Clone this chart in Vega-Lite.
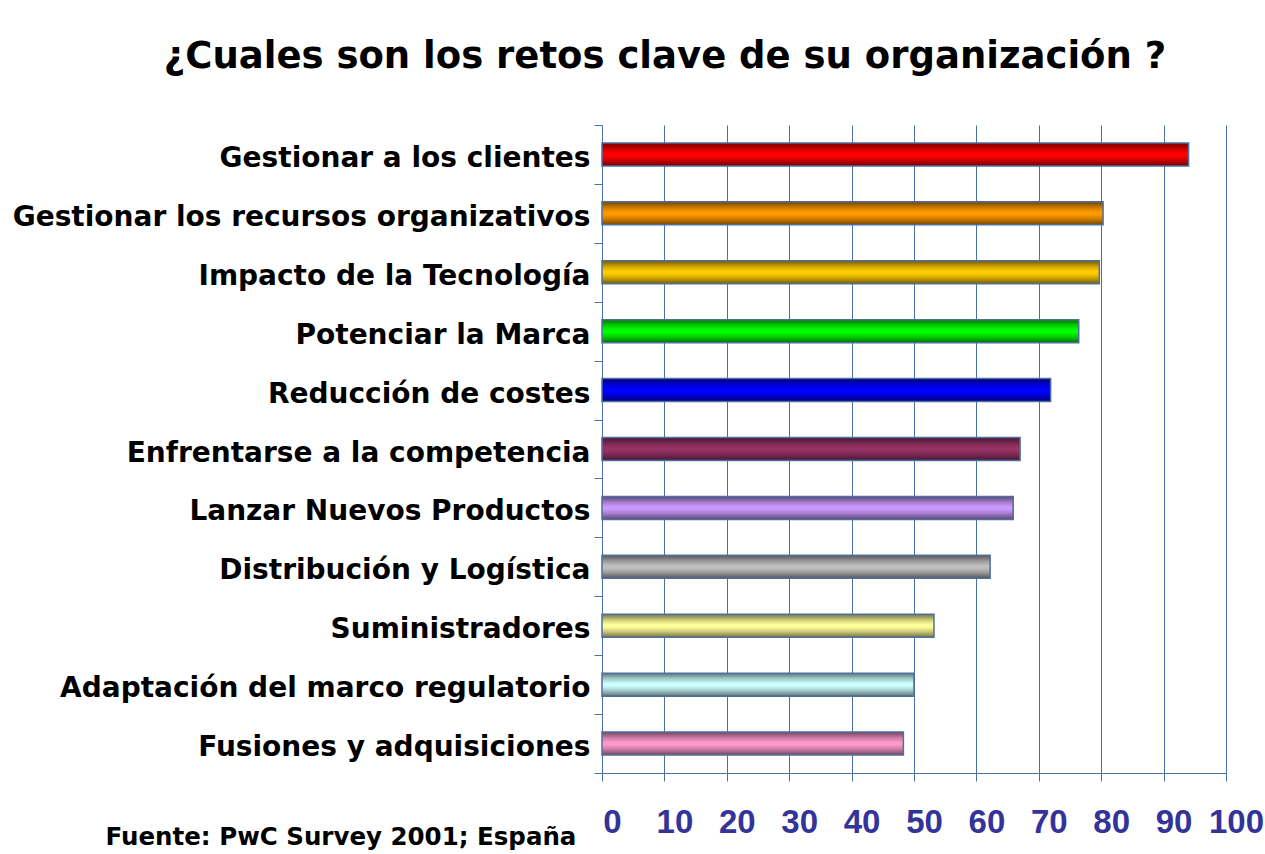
{
  "$schema": "https://vega.github.io/schema/vega-lite/v6.json",
  "width": 624,
  "height": 648,
  "autosize": {"type": "none"},
  "padding": {"left": 602, "top": 125, "right": 39, "bottom": 81},
  "background": "white",
  "title": {
    "text": "¿Cuales son los retos clave de su organización ?",
    "font": "DejaVu Sans",
    "fontSize": 37,
    "fontWeight": "bold",
    "color": "black",
    "anchor": "middle",
    "dx": -249,
    "offset": 35
  },
  "data": {
    "values": [
      {"reto": "Gestionar a los clientes", "valor": 94},
      {"reto": "Gestionar los recursos organizativos", "valor": 80.3},
      {"reto": "Impacto de la Tecnología", "valor": 79.7},
      {"reto": "Potenciar la Marca", "valor": 76.4},
      {"reto": "Reducción de costes", "valor": 71.9},
      {"reto": "Enfrentarse a la competencia", "valor": 67},
      {"reto": "Lanzar Nuevos Productos", "valor": 65.9},
      {"reto": "Distribución y Logística", "valor": 62.2},
      {"reto": "Suministradores", "valor": 53.2},
      {"reto": "Adaptación del marco regulatorio", "valor": 50},
      {"reto": "Fusiones y adquisiciones", "valor": 48.3}
    ]
  },
  "encoding": {
    "y": {
      "field": "reto",
      "type": "nominal",
      "sort": null,
      "scale": {"paddingInner": 0, "paddingOuter": 0},
      "axis": {
        "title": null,
        "labelFont": "DejaVu Sans",
        "labelFontSize": 28,
        "labelFontWeight": "bold",
        "labelColor": "black",
        "labelPadding": 4,
        "labelOffset": 4,
        "labelLimit": 700,
        "tickBand": "extent",
        "tickSize": 8,
        "tickColor": "#4a6fa0",
        "domainColor": "#4a6fa0",
        "grid": false
      }
    },
    "x": {
      "field": "valor",
      "type": "quantitative",
      "scale": {"domain": [0, 100], "nice": false},
      "axis": {
        "values": [0, 10, 20, 30, 40, 50, 60, 70, 80, 90, 100],
        "labelFont": "Liberation Sans Narrow, Liberation Sans",
        "labelFontSize": 33,
        "labelFontWeight": "bold",
        "labelColor": "#333399",
        "labelPadding": 25,
        "labelOffset": 10,
        "labelFlush": false,
        "tickSize": 8,
        "tickColor": "#4a6fa0",
        "domainColor": "#4a6fa0",
        "grid": true,
        "gridColor": "#4a6fa0",
        "gridWidth": 1,
        "title": "Fuente: PwC Survey 2001; España",
        "titleFont": "DejaVu Sans",
        "titleFontSize": 24.5,
        "titleFontWeight": "bold",
        "titleColor": "black",
        "titleAnchor": "start",
        "titleAlign": "left",
        "titleBaseline": "alphabetic",
        "titleX": -497,
        "titleY": 71
      }
    }
  },
  "layer": [
    {
      "mark": {"type": "bar", "size": 23},
      "encoding": {
        "color": {
          "field": "reto",
          "type": "nominal",
          "legend": null,
          "scale": {
            "domain": ["Gestionar a los clientes", "Gestionar los recursos organizativos", "Impacto de la Tecnología", "Potenciar la Marca", "Reducción de costes", "Enfrentarse a la competencia", "Lanzar Nuevos Productos", "Distribución y Logística", "Suministradores", "Adaptación del marco regulatorio", "Fusiones y adquisiciones"],
            "range": ["#ff0000", "#ff9900", "#ffcc00", "#00ff00", "#0000ff", "#993366", "#cc99ff", "#c0c0c0", "#ffff99", "#ccffff", "#ff99cc"]
          }
        }
      }
    },
    {
      "mark": {
        "type": "bar",
        "size": 23,
        "stroke": "#4f6f9f",
        "strokeWidth": 1.5,
        "fill": {
          "gradient": "linear",
          "x1": 0, "y1": 0, "x2": 0, "y2": 1,
          "stops": [
            {"offset": 0, "color": "rgba(0,0,0,0.55)"},
            {"offset": 0.25, "color": "rgba(0,0,0,0.2)"},
            {"offset": 0.45, "color": "rgba(0,0,0,0)"},
            {"offset": 0.55, "color": "rgba(0,0,0,0)"},
            {"offset": 0.75, "color": "rgba(0,0,0,0.2)"},
            {"offset": 1, "color": "rgba(0,0,0,0.55)"}
          ]
        }
      }
    }
  ],
  "config": {
    "view": {"stroke": null}
  }
}
